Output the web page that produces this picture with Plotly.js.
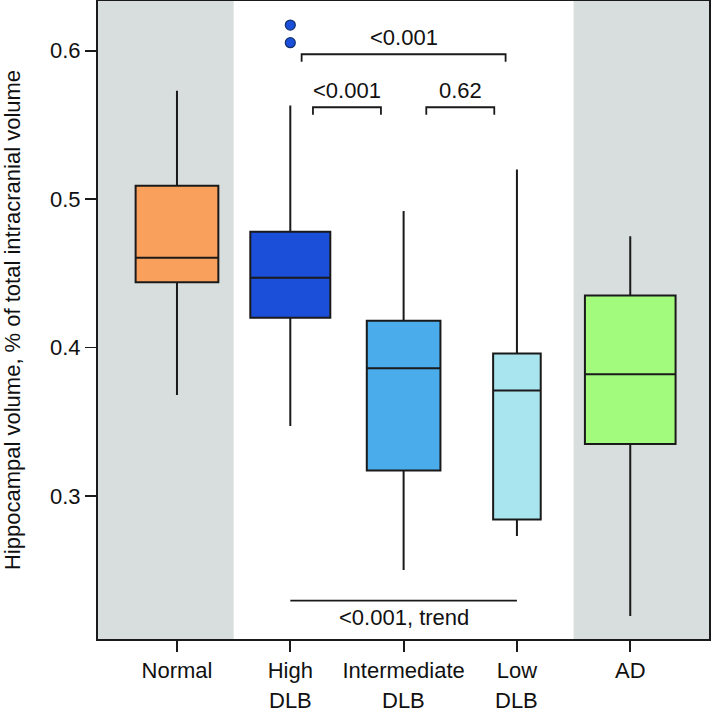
<!DOCTYPE html>
<html><head><meta charset="utf-8">
<script src="https://cdn.plot.ly/plotly-3.0.1.min.js"></script>
<style>html,body{margin:0;padding:0;background:#fff}#chart{width:711px;height:713px}</style>
</head><body><div id="chart"></div>
<script>
// Data
const catPos = [0, 1, 2, 3, 4];
const catLine1 = ["Normal", "High", "Intermediate", "Low", "AD"];
const catLine2 = ["", "DLB", "DLB", "DLB", ""];
const lowerWhisker = [0.368, 0.347, 0.250, 0.273, 0.219];
const q1 = [0.444, 0.420, 0.317, 0.284, 0.335];
const median = [0.4605, 0.447, 0.386, 0.371, 0.382];
const q3 = [0.509, 0.478, 0.418, 0.396, 0.435];
const upperWhisker = [0.573, 0.563, 0.492, 0.520, 0.475];
const boxWidths = [0.73, 0.706, 0.65, 0.42, 0.80];
const boxColors = ["#F9A15C", "#1C4FD9", "#4AACEB", "#A8E5EF", "#A2FB7C"];
const outlierX = [1, 1];
const outlierY = [0.6173, 0.6054];
// p-value brackets: [x0, x1, y, label]
const brackets = [
  [1.1, 2.9, 0.5976, "<0.001"],
  [1.2, 1.8, 0.5619, "<0.001"],
  [2.2, 2.8, 0.5619, "0.62"]
];
const trendLine = [1, 3, 0.2294, "<0.001, trend"];
const yTicks = [0.3, 0.4, 0.5, 0.6];

const FONT = "Liberation Sans, Arial, sans-serif";
const FS = 22;
const lineCol = "#1a1a1a";
const traces = catPos.map((p, i) => ({
  type: "box",
  x: [p],
  q1: [q1[i]], median: [median[i]], q3: [q3[i]],
  lowerfence: [lowerWhisker[i]], upperfence: [upperWhisker[i]],
  width: boxWidths[i],
  whiskerwidth: 0,
  fillcolor: boxColors[i],
  line: {color: lineCol, width: 2},
  boxpoints: false,
  hoverinfo: "skip",
  showlegend: false
}));
traces.push({
  type: "scatter", mode: "markers", x: outlierX, y: outlierY,
  marker: {size: 10, color: boxColors[1], line: {color: "#10306e", width: 1.2}},
  showlegend: false, hoverinfo: "skip"
});

const shapes = [
  {type: "rect", xref: "x", yref: "paper", x0: -0.8, x1: 0.5, y0: 0, y1: 1, fillcolor: "#D8DEDD", line: {width: 0}, layer: "below"},
  {type: "rect", xref: "x", yref: "paper", x0: 3.5, x1: 4.8, y0: 0, y1: 1, fillcolor: "#D8DEDD", line: {width: 0}, layer: "below"}
];
const annotations = [];
const tickDrop = 0.005;
brackets.forEach(b => {
  shapes.push({type: "path", xref: "x", yref: "y",
    path: `M ${b[0]},${b[2]-tickDrop} L ${b[0]},${b[2]} L ${b[1]},${b[2]} L ${b[1]},${b[2]-tickDrop}`,
    line: {color: lineCol, width: 1.8}});
  annotations.push({x: (b[0]+b[1])/2, y: b[2], xref: "x", yref: "y", text: b[3], showarrow: false,
    yanchor: "bottom", yshift: 2, font: {size: FS, color: "#111", family: FONT}});
});
shapes.push({type: "line", xref: "x", yref: "y", x0: trendLine[0], x1: trendLine[1], y0: trendLine[2], y1: trendLine[2],
  line: {color: lineCol, width: 1.8}});
annotations.push({x: (trendLine[0]+trendLine[1])/2, y: trendLine[2], xref: "x", yref: "y", text: trendLine[3],
  showarrow: false, yanchor: "top", yshift: -2, font: {size: FS, color: "#111", family: FONT}});
catPos.forEach((p, i) => {
  if (catLine2[i]) annotations.push({x: p, y: 0, xref: "x", yref: "paper", text: catLine2[i], showarrow: false,
    yanchor: "middle", yshift: -61, borderpad: 0, font: {size: FS, color: "#111", family: FONT}});
});

const layout = {
  width: 711, height: 713,
  margin: {l: 98, r: 2, t: 1, b: 74},
  paper_bgcolor: "#fff", plot_bgcolor: "#fff",
  font: {family: FONT, size: FS, color: "#111"},
  showlegend: false,
  boxmode: "overlay",
  xaxis: {range: [-0.697, 4.695], tickvals: catPos, ticktext: catLine1, ticks: "outside", ticklen: 11,
    tickwidth: 1.8, tickcolor: lineCol, showgrid: false, zeroline: false, showline: true, mirror: true,
    linecolor: lineCol, linewidth: 2, tickfont: {size: FS}, fixedrange: true},
  yaxis: {range: [0.2035, 0.6335], tickvals: yTicks, ticktext: yTicks.map(v => v.toFixed(1)), ticks: "outside",
    ticklen: 11, tickwidth: 1.8, tickcolor: lineCol, showgrid: false, zeroline: false, showline: true, mirror: true,
    linecolor: lineCol, linewidth: 2, tickfont: {size: FS},
    title: {text: "Hippocampal volume, % of total intracranial volume", font: {size: FS}, standoff: 24}},
  shapes: shapes,
  annotations: annotations
};
Plotly.newPlot("chart", traces, layout, {staticPlot: true});
</script></body></html>
